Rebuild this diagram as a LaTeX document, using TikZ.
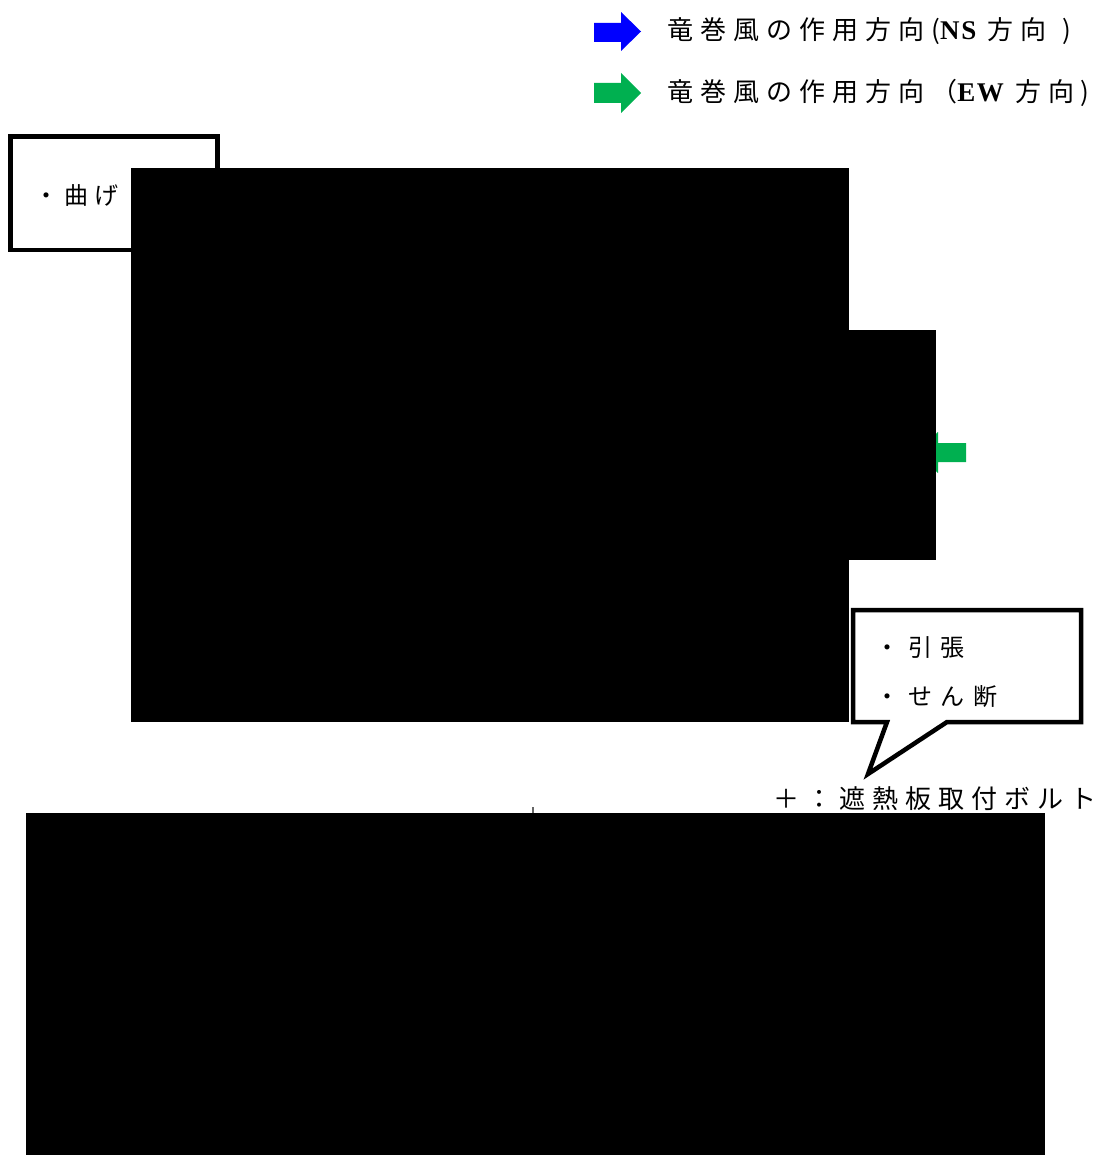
\documentclass[tikz,border=0pt]{standalone}
\usepackage{fontspec}
\setmainfont{Noto Sans CJK JP}
\newfontfamily\jpA[LetterSpace=27]{Noto Sans CJK JP}
\newfontfamily\jpB[LetterSpace=25]{Noto Sans CJK JP}
\newfontfamily\jpC[LetterSpace=37]{Noto Sans CJK JP}
\newfontfamily\jpD[LetterSpace=27]{Noto Sans CJK JP}
\newfontfamily\jpplain{Noto Sans CJK JP}
\newfontfamily\lgfont[LetterSpace=6]{Liberation Serif}
\definecolor{wgreen}{RGB}{0,176,80}
\definecolor{wblue}{RGB}{0,0,255}
\newcommand{\latinpart}[1]{{\lgfont\bfseries\fontsize{27}{27}\selectfont #1}\hspace{11pt}}
\newcommand{\closeparen}[1]{\hspace{#1}{\jpplain)}}
\begin{document}
\begin{tikzpicture}[x=1pt,y=-1pt,
  legendtext/.style={anchor=west,inner sep=0pt,font=\jpA\fontsize{26}{26}\selectfont},
  boxtext/.style={anchor=west,inner sep=0pt,font=\jpB\fontsize{24}{24}\selectfont},
  callouttext/.style={anchor=west,inner sep=0pt,font=\jpC\fontsize{24}{24}\selectfont},
  bolttext/.style={anchor=west,inner sep=0pt,font=\jpD\fontsize{26}{26}\selectfont},
  framebox/.style={draw=black,line width=4.5pt,line join=miter},
  redact/.style={fill=black}]
\useasboundingbox (0,0) rectangle (1103,1155);
% legend arrows
\fill[wblue] (594,23) -- (621,23) -- (621,12) -- (641,31.5) -- (621,51) -- (621,42) -- (594,42) -- cycle;
\fill[wgreen] (594,83) -- (621,83) -- (621,73) -- (641,93) -- (621,113) -- (621,103) -- (594,103) -- cycle;
\node[legendtext] (t1) at (667,31) {竜巻風の作用方向(\latinpart{NS}方向\closeparen{16pt}};
\node[legendtext] (t2) at (667,93) {竜巻風の作用方向（\latinpart{EW}方向\closeparen{6pt}};
% bending box
\draw[framebox] (10.5,136.5) rectangle (217.5,250);
\node[boxtext] (mage) at (34,196) {・曲げ};
% green arrow at right (partially hidden)
\fill[wgreen] (966,443) -- (938,443) -- (938,432) -- (915,452.5) -- (938,473) -- (938,462) -- (966,462) -- cycle;
% redacted regions
\fill[redact] (131,168) rectangle (849,722);
\fill[redact] (848,330) rectangle (935.5,560);
% callout
\draw[framebox] (853,610) -- (1081,610) -- (1081,722) -- (947,722) -- (868,774) -- (887,722) -- (853,722) -- cycle;
\node[callouttext] (hip) at (875,648) {・引張};
\node[callouttext] (shear) at (875,697) {・せん断};
\node[bolttext] (bolt) at (773,799) {＋：遮熱板取付ボルト};
% small tick
\draw[black!60,line width=1.5pt] (533,807) -- (533,813);
\fill[redact] (26,813) rectangle (1045,1155);
\end{tikzpicture}
\end{document}
